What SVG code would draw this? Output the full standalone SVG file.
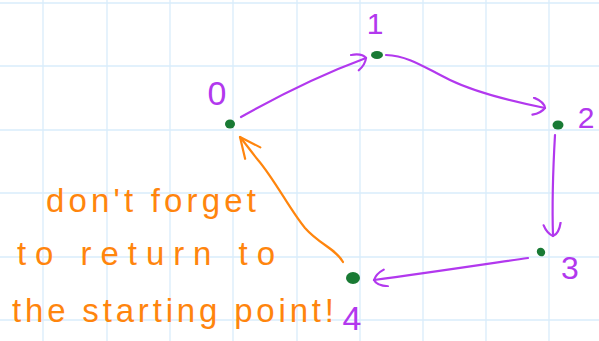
<svg xmlns="http://www.w3.org/2000/svg" width="599" height="341" viewBox="0 0 599 341">
<style>
.grid line{stroke:#d9ecfb;stroke-width:1.3}
.edge{fill:none;stroke:#b238ee;stroke-width:2.2;stroke-linecap:round;stroke-linejoin:round}
.note{fill:none;stroke:#ff850d;stroke-width:2.2;stroke-linecap:round;stroke-linejoin:round}
.dot{fill:#197a34}
.lbl{fill:#b238ee;font-family:"Liberation Sans",Arial,sans-serif;font-weight:normal}
.txt{fill:#ff850d;font-family:"Liberation Sans",Arial,sans-serif;font-size:33px}
</style>
<defs>
<marker id="ap" markerWidth="24" markerHeight="24" refX="14" refY="9" orient="auto" markerUnits="userSpaceOnUse">
<path d="M1,1 Q12,3 14,9 Q11,15 3,18" fill="none" stroke="#b238ee" stroke-width="2.2" stroke-linecap="round"/>
</marker>
<marker id="ao" markerWidth="30" markerHeight="30" refX="24" refY="12" orient="auto" markerUnits="userSpaceOnUse">
<path d="M4,2 L24,12 L3,21" fill="none" stroke="#ff850d" stroke-width="2.2" stroke-linecap="round" stroke-linejoin="round"/>
</marker>
</defs>
<rect width="599" height="341" fill="#ffffff"/>
<g class="grid">
<line x1="43" y1="0" x2="43" y2="341"/>
<line x1="107" y1="0" x2="107" y2="341"/>
<line x1="170" y1="0" x2="170" y2="341"/>
<line x1="233" y1="0" x2="233" y2="341"/>
<line x1="297" y1="0" x2="297" y2="341"/>
<line x1="360" y1="0" x2="360" y2="341"/>
<line x1="423" y1="0" x2="423" y2="341"/>
<line x1="486" y1="0" x2="486" y2="341"/>
<line x1="549" y1="0" x2="549" y2="341"/>
<line x1="0" y1="3" x2="599" y2="3"/>
<line x1="0" y1="66" x2="599" y2="66"/>
<line x1="0" y1="130" x2="599" y2="130"/>
<line x1="0" y1="193" x2="599" y2="193"/>
<line x1="0" y1="257" x2="599" y2="257"/>
<line x1="0" y1="320" x2="599" y2="320"/>
</g>
<g id="connectors">
<path class="edge" d="M241,117 C280,95 320,75 366,58" marker-end="url(#ap)"/>
<path class="edge" d="M386,55 C410,56 425,68 450,80 S510,101 545,108" marker-end="url(#ap)"/>
<path class="edge" d="M555,135 C553,170 552,205 553,236" marker-end="url(#ap)"/>
<path class="edge" d="M528,258 C480,265 420,274 374,280" marker-end="url(#ap)"/>
<path class="note" d="M343,262 C335,248 320,245 305,228 C290,210 275,180 258,160 C250,150 245,143 240,137" marker-end="url(#ao)"/>
</g>
<g id="node0">
<ellipse class="dot" cx="230" cy="124" rx="5" ry="4.5"/>
<text class="lbl" x="217" y="105" font-size="34" text-anchor="middle">0</text>
</g>
<g id="node1">
<ellipse class="dot" cx="377" cy="55" rx="6" ry="4"/>
<text class="lbl" x="375" y="34" font-size="30" text-anchor="middle">1</text>
</g>
<g id="node2">
<ellipse class="dot" cx="558" cy="125" rx="5.5" ry="4.5"/>
<text class="lbl" x="586" y="128" font-size="30" text-anchor="middle">2</text>
</g>
<g id="node3">
<ellipse class="dot" cx="541" cy="252" rx="4" ry="4.5" transform="rotate(-40 541 252)"/>
<text class="lbl" x="570" y="279" font-size="32" text-anchor="middle">3</text>
</g>
<g id="node4">
<ellipse class="dot" cx="353" cy="278" rx="7" ry="6"/>
<text class="lbl" x="352" y="330" font-size="34" text-anchor="middle">4</text>
</g>
<g id="note">
<text class="txt" x="46" y="212" textLength="210" lengthAdjust="spacing">don't forget</text>
<text class="txt" x="17" y="265" textLength="258" lengthAdjust="spacing">to return to</text>
<text class="txt" x="12" y="322" textLength="322" lengthAdjust="spacing">the starting point!</text>
</g>
</svg>
